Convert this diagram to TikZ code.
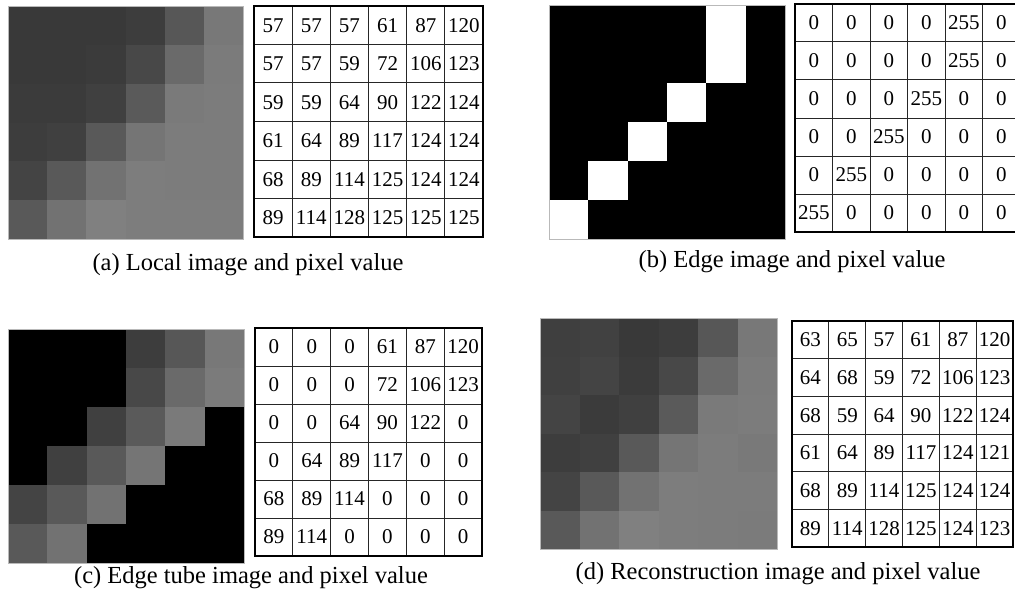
\documentclass[tikz,border=0pt]{standalone}
\usepackage{fontspec}
\setmainfont{Liberation Serif}

% pixel patch: 6x6 grey cells, grey level = pixel value / 255
\newcommand\pixpatch[5]{% x0, y0, x1, y1, rows of values
  \pgfmathsetmacro\cellw{(#3-#1)/6}
  \pgfmathsetmacro\cellh{(#4-#2)/6}
  \foreach \row [count=\r from 0] in {#5} {
    \foreach \v [count=\c from 0] in \row {
      \pgfmathsetmacro\g{\v/255}
      \definecolor{cellc}{gray}{\g}
      \fill[cellc] ({#1+\c*\cellw},{#2+\r*\cellh}) rectangle ++(\cellw,\cellh);
    }
  }
  \draw[imgframe] (#1,#2) rectangle (#3,#4);
}

% value table: 6x6 cells with the pixel values, thick outer frame
\newcommand\valtable[6]{% name, x0, y0, x1, y1, rows of values
  \pgfmathsetmacro\cellw{(#4-#2)/6}
  \pgfmathsetmacro\cellh{(#5-#3)/6}
  \foreach \row [count=\r from 0] in {#6} {
    \foreach \v [count=\c from 0] in \row {
      \node[valcell, minimum width=\cellw pt, minimum height=\cellh pt]
        (#1-\r-\c) at ({#2+(\c+0.5)*\cellw},{#3+(\r+0.5)*\cellh}) {\v};
    }
  }
  \draw[tableframe] (#2,#3) rectangle (#4,#5);
}

\tikzset{
  imgframe/.style={draw=gray!55, line width=0.7pt},
  valcell/.style={draw=black!85, line width=1pt, inner sep=0pt,
    font=\fontsize{21}{24}\selectfont},
  tableframe/.style={draw=black, line width=2.6pt},
  caption/.style={anchor=base, inner sep=0pt,
    font=\fontsize{24.5}{29}\selectfont}
}

\begin{document}
\begin{tikzpicture}[x=1pt, y=-1pt]
\useasboundingbox (0,0) rectangle (1015,602);
\clip (0,0) rectangle (1015,602);

% (a) local image
\pixpatch{8}{6}{243}{239}{{57,57,57,61,87,120},{57,57,59,72,106,123},{59,59,64,90,122,124},{61,64,89,117,124,124},{68,89,114,125,124,124},{89,114,128,125,125,125}}
\valtable{ta}{254}{6}{483}{237}{{57,57,57,61,87,120},{57,57,59,72,106,123},{59,59,64,90,122,124},{61,64,89,117,124,124},{68,89,114,125,124,124},{89,114,128,125,125,125}}
\node[caption] (capa) at (248,270) {(a) Local image and pixel value};

% (b) edge image
\pixpatch{549}{5}{785}{239}{{0,0,0,0,255,0},{0,0,0,0,255,0},{0,0,0,255,0,0},{0,0,255,0,0,0},{0,255,0,0,0,0},{255,0,0,0,0,0}}
\valtable{tb}{795}{4}{1020}{232}{{0,0,0,0,255,0},{0,0,0,0,255,0},{0,0,0,255,0,0},{0,0,255,0,0,0},{0,255,0,0,0,0},{255,0,0,0,0,0}}
\node[caption] (capb) at (792,267) {(b) Edge image and pixel value};

% (c) edge tube image
\pixpatch{8}{329}{244}{563}{{0,0,0,61,87,120},{0,0,0,72,106,123},{0,0,64,90,122,0},{0,64,89,117,0,0},{68,89,114,0,0,0},{89,114,0,0,0,0}}
\valtable{tc}{255}{328}{482}{556}{{0,0,0,61,87,120},{0,0,0,72,106,123},{0,0,64,90,122,0},{0,64,89,117,0,0},{68,89,114,0,0,0},{89,114,0,0,0,0}}
\node[caption] (capc) at (251,583) {(c) Edge tube image and pixel value};

% (d) reconstruction image
\pixpatch{540}{318}{777}{549}{{63,65,57,61,87,120},{64,68,59,72,106,123},{68,59,64,90,122,124},{61,64,89,117,124,121},{68,89,114,125,124,124},{89,114,128,125,124,123}}
\valtable{td}{792}{321}{1013}{547}{{63,65,57,61,87,120},{64,68,59,72,106,123},{68,59,64,90,122,124},{61,64,89,117,124,121},{68,89,114,125,124,124},{89,114,128,125,124,123}}
\node[caption] (capd) at (778,579) {(d) Reconstruction image and pixel value};
\end{tikzpicture}
\end{document}
